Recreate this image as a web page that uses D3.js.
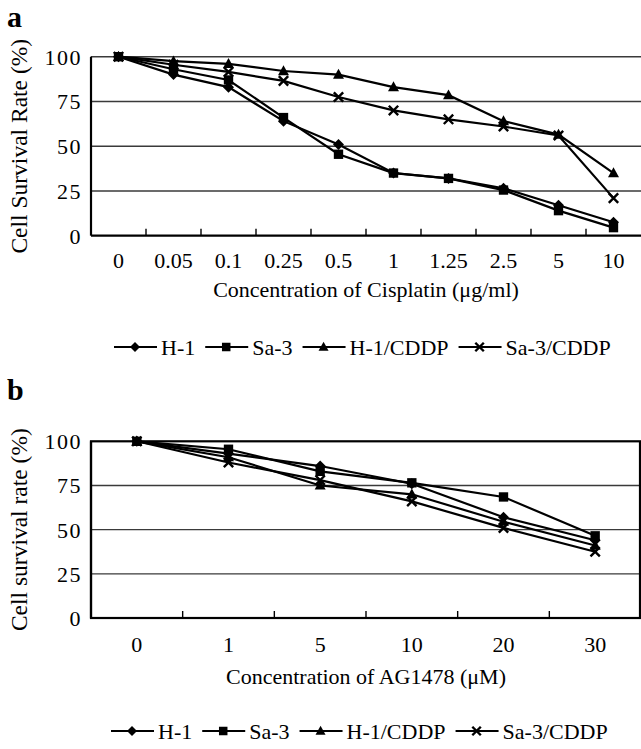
<!DOCTYPE html>
<html><head><meta charset="utf-8">
<script src="https://cdn.jsdelivr.net/npm/d3@7"></script>
<style>
html,body{margin:0;padding:0;background:#fff;}
svg{display:block;}
text{font-family:"Liberation Serif","Times New Roman",serif;fill:#000;}
</style></head>
<body>
<svg id="c" width="641" height="749"></svg>
<script>
// ---------- data ----------
const seriesNames = ["H-1", "Sa-3", "H-1/CDDP", "Sa-3/CDDP"];
const seriesSymbols = ["diamond", "square", "triangle", "cross"];

const catsA = ["0", "0.05", "0.1", "0.25", "0.5", "1", "1.25", "2.5", "5", "10"];
const aH1    = [100, 90, 83, 64, 51, 35, 32, 26.5, 17, 7.5];
const aSa3   = [100, 93, 87, 66, 45.5, 35, 32, 25.5, 14, 4.5];
const aH1C   = [100, 97.5, 96, 92, 90, 83, 78.5, 64, 56.5, 35];
const aSa3C  = [100, 95.5, 91.5, 86.5, 77.5, 70, 65, 61, 56, 21];

const catsB = ["0", "1", "5", "10", "20", "30"];
const bH1    = [100, 93, 86, 76, 57, 44];
const bSa3   = [100, 95.5, 83, 76.5, 68.5, 46.5];
const bH1C   = [100, 91, 75, 70, 54.5, 41];
const bSa3C  = [100, 88, 78, 66, 51, 37.5];

const yTicks = [0, 25, 50, 75, 100];

// ---------- drawing ----------
const svg = d3.select("#c");

function marker(g, type, x, y, s) {
  if (type === "diamond") {
    g.append("path").attr("d", `M${x},${y - s}L${x + s},${y}L${x},${y + s}L${x - s},${y}Z`).attr("fill", "#000");
  } else if (type === "square") {
    g.append("rect").attr("x", x - s * 0.85).attr("y", y - s * 0.85).attr("width", s * 1.7).attr("height", s * 1.7).attr("fill", "#000");
  } else if (type === "triangle") {
    g.append("path").attr("d", `M${x},${y - s * 1.05}L${x + s},${y + s * 0.75}L${x - s},${y + s * 0.75}Z`).attr("fill", "#000");
  } else {
    const r = s * 0.85;
    g.append("path").attr("d", `M${x - r},${y - r}L${x + r},${y + r}M${x - r},${y + r}L${x + r},${y - r}`)
      .attr("stroke", "#000").attr("stroke-width", 2.4).attr("fill", "none");
  }
}

function panel(opt) {
  const g = svg.append("g");
  const x = d3.scaleBand().domain(opt.cats).range([opt.left, opt.right]).padding(0);
  const y = d3.scaleLinear().domain([0, 100]).range([opt.bottom, opt.top]);

  // gridlines
  const gridVals = opt.box ? [25, 50, 75] : [25, 50, 75, 100];
  g.append("g").selectAll("line").data(gridVals).join("line")
    .attr("x1", opt.left).attr("x2", opt.right)
    .attr("y1", d => y(d)).attr("y2", d => y(d))
    .attr("stroke", "#3a3a3a").attr("stroke-width", 1.4);

  if (opt.box) {
    g.append("rect").attr("x", opt.left).attr("y", opt.top)
      .attr("width", opt.right - opt.left - 1).attr("height", opt.bottom - opt.top)
      .attr("fill", "none").attr("stroke", "#000").attr("stroke-width", 2.2);
  }

  // x axis (ticks pointing inward)
  const xAxis = d3.axisBottom(x).tickSize(0).tickPadding(0);
  const xa = g.append("g").attr("transform", `translate(0,${opt.bottom})`).call(xAxis);
  xa.select(".domain").remove();
  xa.selectAll("text").attr("font-size", 22).attr("dy", null).attr("y", opt.xLabelDy)
    .attr("font-family", "Liberation Serif");
  // inward tick marks at band boundaries
  g.append("g").selectAll("line").data(opt.cats.slice(1)).join("line")
    .attr("x1", d => x(d)).attr("x2", d => x(d))
    .attr("y1", opt.bottom).attr("y2", opt.bottom - 7)
    .attr("stroke", "#000").attr("stroke-width", 1.4);
  g.append("line").attr("x1", opt.left).attr("x2", opt.right)
    .attr("y1", opt.bottom).attr("y2", opt.bottom).attr("stroke", "#000").attr("stroke-width", 2.2);

  // y axis
  const yAxis = d3.axisLeft(y).tickValues(yTicks).tickSize(0).tickPadding(0);
  const ya = g.append("g").attr("transform", `translate(${opt.left},0)`).call(yAxis);
  ya.select(".domain").remove();
  ya.selectAll("text").attr("font-size", 22).attr("x", -9).attr("dy", "0.34em")
    .attr("font-family", "Liberation Serif").attr("letter-spacing", 1.5);
  g.append("line").attr("x1", opt.left).attr("x2", opt.left)
    .attr("y1", opt.top).attr("y2", opt.bottom).attr("stroke", "#000").attr("stroke-width", 2.2);

  // series
  const line = d3.line().x((d, i) => x(opt.cats[i]) + x.bandwidth() / 2).y(d => y(d));
  opt.series.forEach((vals, si) => {
    g.append("path").datum(vals).attr("d", line)
      .attr("fill", "none").attr("stroke", "#000").attr("stroke-width", 2.2);
  });
  opt.series.forEach((vals, si) => {
    vals.forEach((v, i) => marker(g, seriesSymbols[si], x(opt.cats[i]) + x.bandwidth() / 2, y(v), 5.5));
  });

  // axis titles
  g.append("text").attr("x", (opt.left + opt.right) / 2).attr("y", opt.xTitleY)
    .attr("text-anchor", "middle").attr("font-size", 22).text(opt.xTitle);
  g.append("text").attr("transform", `translate(${opt.yTitleX},${(opt.top + opt.bottom) / 2}) rotate(-90)`)
    .attr("text-anchor", "middle").attr("font-size", 23.5).text(opt.yTitle);

  // panel letter
  g.append("text").attr("x", 7).attr("y", opt.letterY)
    .attr("font-family", "Liberation Sans, Arial, sans-serif").attr("font-weight", "bold")
    .attr("font-size", 30).text(opt.letter);

  // legend
  const lg = g.append("g");
  let cx = opt.legendX;
  seriesNames.forEach((name, si) => {
    const ly = opt.legendY;
    lg.append("line").attr("x1", cx).attr("x2", cx + 43).attr("y1", ly).attr("y2", ly)
      .attr("stroke", "#000").attr("stroke-width", 2);
    marker(lg, seriesSymbols[si], cx + 21, ly, 5);
    const t = lg.append("text").attr("x", cx + 47).attr("y", ly + 8).attr("font-size", 22).text(name);
    cx += 47 + t.node().getComputedTextLength() + 10;
  });
}

panel({
  cats: catsA, series: [aH1, aSa3, aH1C, aSa3C],
  left: 91, right: 641, top: 56.7, bottom: 235.7, box: false,
  xLabelDy: 32, xTitleY: 297, xTitle: "Concentration of Cisplatin (μg/ml)",
  yTitleX: 27, yTitle: "Cell Survival Rate (%)",
  letter: "a", letterY: 27, legendX: 114, legendY: 347
});

panel({
  cats: catsB, series: [bH1, bSa3, bH1C, bSa3C],
  left: 91, right: 641, top: 441.3, bottom: 618, box: true,
  xLabelDy: 34, xTitleY: 684, xTitle: "Concentration of AG1478 (μM)",
  yTitleX: 27, yTitle: "Cell survival rate (%)",
  letter: "b", letterY: 400, legendX: 111, legendY: 731
});
</script>
</body></html>
